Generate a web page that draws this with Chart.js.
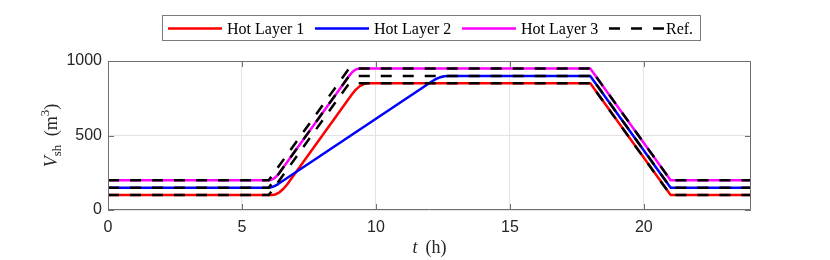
<!DOCTYPE html>
<html>
<head>
<meta charset="utf-8">
<script src="https://cdn.jsdelivr.net/npm/chart.js@4.4.1/dist/chart.umd.min.js"></script>
<style>
  html, body { margin: 0; padding: 0; background: #ffffff; }
  canvas { display: block; }
</style>
</head>
<body>
<canvas id="c" width="830" height="260"></canvas>
<script>
// ---- data ----
const seriesLabels = ["Hot Layer 1", "Hot Layer 2", "Hot Layer 3", "Ref."];

const layer1T = [0, 6.1, 6.25, 6.4, 6.55, 6.7, 9.1, 9.25, 9.4, 9.55, 9.7, 18, 21, 24];
const layer1V = [100, 100, 104.7, 118.8, 142.2, 175, 775, 807.8, 831.3, 845.3, 850, 850, 100, 100];

const layer2T = [0, 5.95, 6.05, 6.15, 6.25, 6.35, 12.1, 12.25, 12.4, 12.55, 12.7, 18, 21, 24];
const layer2V = [150, 150, 151.5, 156, 163.5, 174, 864, 879.8, 891, 897.8, 900, 900, 150, 150];

const layer3T = [0, 6.0, 6.1, 6.2, 6.3, 6.4, 9.0, 9.1, 9.2, 9.3, 9.4, 18, 21, 24];
const layer3V = [200, 200, 203, 212.5, 228, 250, 900, 921.9, 937.5, 946.9, 950, 950, 200, 200];

const refT = [0, 6, 9, 18, 21, 24];
const ref1V = [100, 100, 850, 850, 100, 100];
const ref2V = [150, 150, 900, 900, 150, 150];
const ref3V = [200, 200, 950, 950, 200, 200];

const xTicks = [0, 5, 10, 15, 20];
const yTicks = [0, 500, 1000];
const xRange = [0, 24];
const yRange = [0, 1000];

// ---- helpers ----
const pts = (t, v) => t.map((tt, i) => ({ x: tt, y: v[i] }));

const COLORS = ["#ff0000", "#0000ff", "#ff00ff", "#000000"];
const DASH = [11, 11];
const LW = 2.5;

function lineDS(label, data, color, order, dash) {
  return {
    label, data,
    borderColor: color, backgroundColor: color,
    borderWidth: LW, pointRadius: 0, pointHoverRadius: 0,
    tension: 0, fill: false, order,
    borderDash: dash || [],
    borderCapStyle: 'butt', borderJoinStyle: 'round'
  };
}

const datasets = [
  lineDS(seriesLabels[0], pts(layer1T, layer1V), COLORS[0], 6),
  lineDS(seriesLabels[1], pts(layer2T, layer2V), COLORS[1], 5),
  lineDS(seriesLabels[2], pts(layer3T, layer3V), COLORS[2], 4),
  lineDS(seriesLabels[3], pts(refT, ref1V), COLORS[3], 3, DASH),
  lineDS(seriesLabels[3] + " 2", pts(refT, ref2V), COLORS[3], 2, DASH),
  lineDS(seriesLabels[3] + " 3", pts(refT, ref3V), COLORS[3], 1, DASH)
];

const SERIF = '"Liberation Serif", "DejaVu Serif", serif';
const SANS = '"Liberation Sans", Arial, sans-serif';
const AXIS_COLOR = '#707070';
const TEXT_COLOR = '#262626';

const decorPlugin = {
  id: 'decor',
  afterDraw(chart) {
    const ctx = chart.ctx;
    const { left, right, top, bottom } = chart.chartArea;
    const xs = chart.scales.x, ys = chart.scales.y;
    ctx.save();

    // box
    ctx.strokeStyle = AXIS_COLOR;
    ctx.lineWidth = 1;
    ctx.setLineDash([]);
    ctx.beginPath();
    ctx.rect(left + 0.5, top + 0.5, right - left - 1, bottom - top - 1);
    ctx.stroke();

    // inward ticks
    const TL = 6;
    ctx.beginPath();
    xTicks.forEach(v => {
      const px = Math.round(xs.getPixelForValue(v)) + 0.5;
      ctx.moveTo(px, bottom); ctx.lineTo(px, bottom - TL);
      ctx.moveTo(px, top); ctx.lineTo(px, top + TL);
    });
    yTicks.forEach(v => {
      const py = Math.round(ys.getPixelForValue(v)) + 0.5;
      ctx.moveTo(left, py); ctx.lineTo(left + TL, py);
      ctx.moveTo(right, py); ctx.lineTo(right - TL, py);
    });
    ctx.stroke();

    // x title: t (h)
    ctx.fillStyle = TEXT_COLOR;
    ctx.textBaseline = 'alphabetic';
    const cx = (left + right) / 2;
    ctx.font = 'italic 18px ' + SERIF;
    const wT = ctx.measureText('t').width;
    ctx.font = '18px ' + SERIF;
    const wH = ctx.measureText('(h)').width;
    const gap = 8;
    const tot = wT + gap + wH;
    let x0 = cx - tot / 2;
    ctx.font = 'italic 18px ' + SERIF;
    ctx.textAlign = 'left';
    ctx.fillText('t', x0, 253);
    ctx.font = '18px ' + SERIF;
    ctx.fillText('(h)', x0 + wT + gap, 253);

    // y title: V_sh (m^3)
    ctx.save();
    ctx.translate(57, (top + bottom) / 2);
    ctx.rotate(-Math.PI / 2);
    const parts = [
      { s: 'V', f: 'italic 18px ' + SERIF, dy: 0 },
      { s: 'sh', f: '13px ' + SERIF, dy: 4 },
      { s: ' (m', f: '18px ' + SERIF, dy: 0, pad: 4 },
      { s: '3', f: '13px ' + SERIF, dy: -8 },
      { s: ')', f: '18px ' + SERIF, dy: 0 }
    ];
    let total = 0;
    parts.forEach(p => { ctx.font = p.f; p.w = ctx.measureText(p.s).width; total += p.w + (p.pad || 0); });
    let px = -total / 2;
    parts.forEach(p => {
      px += (p.pad || 0);
      ctx.font = p.f;
      ctx.fillText(p.s, px, p.dy);
      px += p.w;
    });
    ctx.restore();

    // legend
    const lgBox = { x: 162.5, y: 15.5, w: 538, h: 25 };
    ctx.fillStyle = '#ffffff';
    ctx.fillRect(lgBox.x, lgBox.y, lgBox.w, lgBox.h);
    ctx.strokeStyle = '#7a7a7a';
    ctx.lineWidth = 1;
    ctx.strokeRect(lgBox.x, lgBox.y, lgBox.w, lgBox.h);
    const itemX = [168, 315, 462, 609];
    const sampleLen = 54;
    const ly = 28.5;
    ctx.font = '16px ' + SERIF;
    ctx.textBaseline = 'middle';
    ctx.textAlign = 'left';
    seriesLabels.forEach((lab, i) => {
      ctx.strokeStyle = COLORS[i];
      ctx.lineWidth = LW;
      ctx.lineCap = 'butt';
      ctx.setLineDash(i === 3 ? DASH : []);
      ctx.beginPath();
      ctx.moveTo(itemX[i], ly);
      ctx.lineTo(itemX[i] + sampleLen + (i === 3 ? 1 : 0), ly);
      ctx.stroke();
      ctx.setLineDash([]);
      ctx.fillStyle = '#000000';
      ctx.fillText(lab, itemX[i] + sampleLen + (i === 3 ? 3 : 5), ly + 1);
    });

    ctx.restore();
  }
};

new Chart(document.getElementById('c'), {
  type: 'line',
  data: { datasets },
  options: {
    responsive: false,
    animation: false,
    events: [],
    layout: { padding: { left: 0, right: 79, top: 61, bottom: 0 } },
    plugins: { legend: { display: false }, tooltip: { enabled: false }, title: { display: false } },
    scales: {
      x: {
        type: 'linear', min: xRange[0], max: xRange[1],
        afterBuildTicks: s => { s.ticks = xTicks.map(v => ({ value: v })); },
        afterFit: s => { s.height = 50; },
        grid: { color: '#e3e3e3', lineWidth: 1, drawTicks: false },
        border: { display: false },
        ticks: { color: TEXT_COLOR, font: { family: SANS, size: 16 }, padding: 8, maxRotation: 0, autoSkip: false,
                 callback: v => String(v) }
      },
      y: {
        type: 'linear', min: yRange[0], max: yRange[1],
        afterBuildTicks: s => { s.ticks = yTicks.map(v => ({ value: v })); },
        afterFit: s => { s.width = 108; },
        grid: { color: '#e3e3e3', lineWidth: 1, drawTicks: false },
        border: { display: false },
        ticks: { color: TEXT_COLOR, font: { family: SANS, size: 16 }, padding: 6, autoSkip: false,
                 callback: v => String(v) }
      }
    }
  },
  plugins: [decorPlugin]
});
</script>
</body>
</html>
